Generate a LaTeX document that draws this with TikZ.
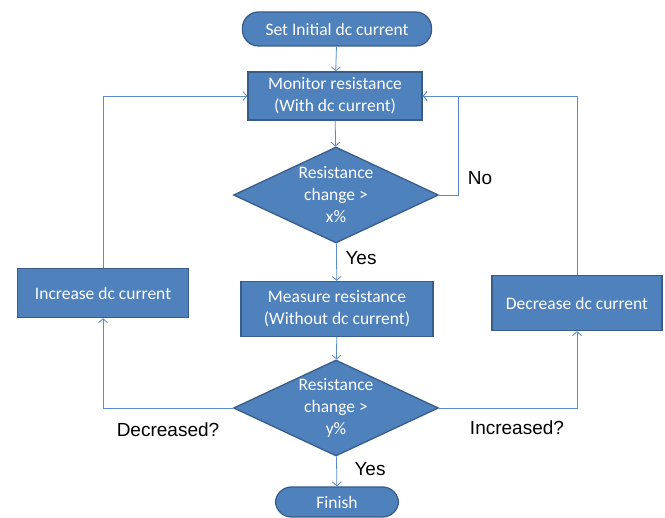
\documentclass[tikz,border=0pt]{standalone}
\usepackage{fontspec}
\setmainfont{Carlito}
\newfontfamily\arialfont{Liberation Sans}
\usetikzlibrary{shapes.geometric,arrows.meta}
\definecolor{boxblue}{HTML}{4F81BD}
\definecolor{boxedge}{HTML}{385D8A}
\definecolor{lineblue}{HTML}{5B8BC9}

\begin{document}
\begin{tikzpicture}[x=1pt,y=-1pt,
		box/.style={rectangle, draw=boxedge, line width=1.3pt, fill=boxblue, text=white, align=center,
			font=\fontsize{17.5}{22}\selectfont, inner sep=0pt},
		term/.style={box, rounded corners=16pt},
		decide/.style={diamond, draw=boxedge, line width=1.3pt, fill=boxblue, inner sep=0pt,
			minimum width=205pt, minimum height=96pt},
		dtext/.style={text=white, align=center, font=\fontsize{17.5}{22}\selectfont},
		lbl/.style={font=\arialfont\fontsize{19}{22}\selectfont},
		arr/.style={draw=lineblue, line width=0.8pt, -{Straight Barb[length=4pt,width=9pt]}}]
			\useasboundingbox (0,0) rectangle (665,518);
			% main column
			\node (start) at (337,29) [term, minimum width=189pt, minimum height=34pt] {Set Initial dc current};
			\node (mon) at (335,96) [box, minimum width=174pt, minimum height=48pt] {Monitor resistance\\(With dc current)};
			\node (d1) at (336,195) [decide] {};
			\node (d1t) at (d1.center) [dtext] {Resistance\\change >\\x\%};
			\node (mea) at (337,309) [box, minimum width=192pt, minimum height=55pt] {Measure resistance\\(Without dc current)};
			\node (d2) at (336,408) [decide] {};
			\node (d2t) at (d2.center) [dtext] {Resistance\\change >\\y\%};
			\node (fin) at (337,502) [term, minimum width=123pt, minimum height=30pt] {Finish};
			
			% side boxes
			\node (inc) at (103,293) [box, minimum width=171pt, minimum height=49pt] {Increase dc current};
			\node (dec) at (577,303) [box, minimum width=170pt, minimum height=55pt] {Decrease dc current};
			
			\coordinate (nocorner) at (458,195);
			
			\draw[arr] (start)--(mon);
			\draw[arr] (mon)--(d1);
			\draw[arr] (d1)--(mea);
			\draw[arr] (d1.east)--(nocorner)|-(mon.east);
			\draw[arr] (mea)--(d2);
			\draw[arr] (d2)--(fin);
			\draw[arr] (d2.west)-|(inc.south);
			\draw[arr] (inc.north)|-(mon.west);
			\draw[arr] (d2.east)-|(dec.south);
			\draw[arr] (dec.north)|-(mon.east);
			
			% labels
			\node (no) at (480,178) [lbl] {No};
			\node (yes1) at (361,258) [lbl] {Yes};
			\node (yes2) at (370,469) [lbl] {Yes};
			\node (decd) at (168,430) [lbl] {Decreased?};
			\node (incd) at (517,428) [lbl] {Increased?};
		\end{tikzpicture}
\end{document}
